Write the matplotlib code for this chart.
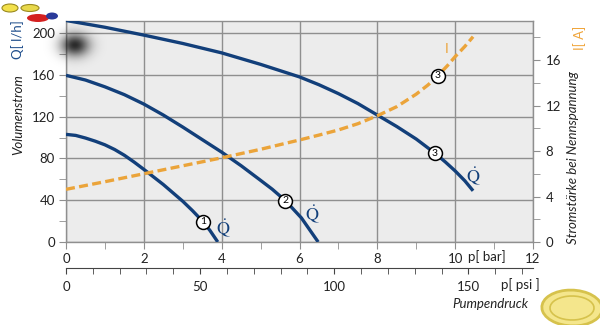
import numpy as np
import matplotlib
matplotlib.use("Agg")
import matplotlib.pyplot as plt
from matplotlib.ticker import MultipleLocator
from matplotlib.patches import Ellipse

plt.rcParams['font.family'] = ['Lato', 'DejaVu Sans']

# pump curves: pressure [bar] -> flow [l/h]
p1 = [0, 0.25, 0.5, 0.75, 1, 1.25, 1.5, 1.75, 2, 2.5, 3, 3.25, 3.52, 3.7, 3.9]
q1 = [103, 102, 99.5, 96.5, 93, 88.5, 83, 76.5, 69.5, 55, 39, 30, 19.5, 11, 0]
p2 = [0, 0.5, 1, 1.5, 2, 2.5, 3, 3.5, 4, 4.5, 5, 5.3, 5.64, 6.05, 6.48]
q2 = [159.5, 155, 148.5, 141, 132, 121.5, 110, 98, 86, 73, 59, 50.5, 39.5, 23, 0]
p3 = [0, 1, 2, 3, 4, 5, 6, 6.5, 7, 7.5, 8, 8.5, 9, 9.48, 9.75, 10, 10.25, 10.46]
q3 = [212, 205.5, 198, 190, 181, 170, 158, 150.5, 142, 132.5, 121.5, 110.5, 98.5,
      85, 76.5, 68, 58.5, 49]

# current draw at rated voltage [A]
p_i = [0, 1, 2, 3, 4, 5, 6, 6.5, 7, 7.5, 8, 8.5, 9, 9.3, 9.55, 9.8, 10, 10.25, 10.46]
cur = [4.63, 5.3, 6.0, 6.7, 7.4, 8.15, 8.97, 9.4, 9.85, 10.4, 11.1, 11.9, 13.0,
       13.8, 14.6, 15.5, 16.3, 17.2, 18.05]

# numbered curve markers (label, bar, value)
flow_marks = [("1", 3.52, 19.5), ("2", 5.64, 39.5), ("3", 9.48, 85)]
cur_marks = [("3", 9.55, 14.6)]
# Q-dot labels (bar, l/h)
qdot_pos = [(4.05, 13), (6.34, 26), (10.46, 62)]

bar_ticks = [0, 2, 4, 6, 8, 10, 12]
bar_labels = ["0", "2", "4", "6", "8", "10", "12"]
psi_ticks = [0, 50, 100, 150]
q_ticks = [0, 40, 80, 120, 160, 200]
i_ticks = [0, 4, 8, 12, 16]

BLUE = "#123f7a"
ORANGE = "#eba43a"
GRID = "#8f8f8f"
TXT = "#222222"

W, H = 600, 325
fig = plt.figure(figsize=(6, 3.25), dpi=100)
fig.patch.set_facecolor("white")


def fx(px):
    return px / W


def fy(py):
    return 1 - py / H


ax = fig.add_axes([fx(66), fy(242), fx(533) - fx(66), fy(21) - fy(242)])
ax.set_facecolor("#ececec")
ax.set_xlim(0, 12)
ax.set_ylim(0, 211.5)
ax.set_xticks(bar_ticks)
ax.set_xticklabels(bar_labels)
ax.xaxis.set_minor_locator(MultipleLocator(1))
ax.set_yticks(q_ticks)
ax.yaxis.set_minor_locator(MultipleLocator(20))
ax.grid(True, which="major", color=GRID, lw=1.0)
ax.set_axisbelow(True)
for s in ax.spines.values():
    s.set_color(GRID)
    s.set_linewidth(1.0)
ax.tick_params(which="both", direction="out", color=GRID, labelcolor=TXT,
               labelsize=9.5, pad=3, length=5)

for p, q in [(p1, q1), (p2, q2), (p3, q3)]:
    ax.plot(p, q, color=BLUE, lw=2.4, solid_capstyle="butt",
            solid_joinstyle="round", zorder=3)

for lab, p, q in flow_marks:
    ax.plot(p, q, "o", ms=10, mfc="white", mec="black", mew=1.1, zorder=5)
    ax.text(p, q, lab, ha="center", va="center", fontsize=7.5, color="black", zorder=6)

for p, q in qdot_pos:
    ax.text(p, q, r"$\dot{\mathrm{Q}}$", ha="center", va="center", fontsize=13,
            color=BLUE, math_fontfamily="stix", zorder=6)

ax2 = ax.twinx()
ax2.set_ylim(0, 19.43)
ax2.set_yticks(i_ticks)
ax2.yaxis.set_minor_locator(MultipleLocator(2))
for s in ax2.spines.values():
    s.set_visible(False)
ax2.tick_params(which="both", direction="out", color=GRID, labelcolor=TXT,
                labelsize=9.5, length=5, pad=4)
ax2.plot(p_i, cur, color=ORANGE, lw=2.4, ls=(0, (2.7, 1.3)), zorder=4)
for lab, p, c in cur_marks:
    ax2.plot(p, c, "o", ms=10, mfc="white", mec="black", mew=1.1, zorder=5)
    ax2.text(p, c, lab, ha="center", va="center", fontsize=7.5, color="black", zorder=6)
ax2.text(9.79, 17.0, "I", ha="center", va="center", fontsize=10, color=ORANGE)

# second pressure scale in psi
sec = ax.secondary_xaxis(-0.118, functions=(lambda b: b * 14.5038, lambda s: s / 14.5038))
sec.set_xticks(psi_ticks)
sec.xaxis.set_minor_locator(MultipleLocator(10))
sec.spines["bottom"].set_color("#444444")
sec.tick_params(which="both", direction="out", color="#444444", labelcolor=TXT,
                labelsize=9.5, length=4, pad=5)

# axis titles
fig.text(fx(468), fy(257), "p[ bar]", ha="left", va="center", fontsize=9.5, color=TXT)
fig.text(fx(520), fy(285), "p[ psi ]", ha="center", va="center", fontsize=9.5, color=TXT)
fig.text(fx(490), fy(304), "Pumpendruck", ha="center", va="center", fontsize=9.5,
         style="italic", color=TXT)
fig.text(fx(18), fy(115), "Volumenstrom", rotation=90, ha="center", va="center",
         fontsize=9.5, style="italic", color=TXT)
fig.text(fx(18), fy(40), "Q[ l/h]", rotation=90, ha="center", va="center",
         fontsize=9.5, color="#1f4e8c")
fig.text(fx(573), fy(158), "Stromstärke bei Nennspannung", rotation=90, ha="center",
         va="center", fontsize=9.5, style="italic", color=TXT)
fig.text(fx(580), fy(38), "I[ A]", rotation=90, ha="center", va="center",
         fontsize=9.5, color="#f0a53a")

# smudge near the top of the flow axis
blob = fig.add_axes([fx(43), fy(70), fx(64), fy(0) - fy(50)])
yy, xx = np.mgrid[-1:1:50j, -1:1:64j]
rgba = np.zeros((50, 64, 4))
rgba[..., 3] = 0.82 * np.exp(-(xx ** 2 + yy ** 2) * 5.0)
blob.imshow(rgba, aspect="auto")
blob.axis("off")

# logos
fig.add_artist(Ellipse((fx(572), fy(308)), fx(60), fy(0) - fy(36), angle=12,
                       transform=fig.transFigure, fc="#f4e68c", ec="#d6c24c", lw=2))
fig.add_artist(Ellipse((fx(572), fy(308)), fx(44), fy(0) - fy(24), angle=12,
                       transform=fig.transFigure, fc="none", ec="#d6c24c", lw=1.2))
fig.add_artist(Ellipse((fx(10), fy(8)), fx(16), fy(0) - fy(8),
                       transform=fig.transFigure, fc="#f2e04a", ec="#9a8a20", lw=0.8))
fig.add_artist(Ellipse((fx(30), fy(8)), fx(18), fy(0) - fy(7),
                       transform=fig.transFigure, fc="#e8d84a", ec="#9a8a20", lw=0.8))
fig.add_artist(Ellipse((fx(38), fy(18)), fx(22), fy(0) - fy(8),
                       transform=fig.transFigure, fc="#d42020", ec="none"))
fig.add_artist(Ellipse((fx(52), fy(16)), fx(12), fy(0) - fy(7),
                       transform=fig.transFigure, fc="#2a3a9a", ec="none"))

fig.savefig("out.png", dpi=100)
